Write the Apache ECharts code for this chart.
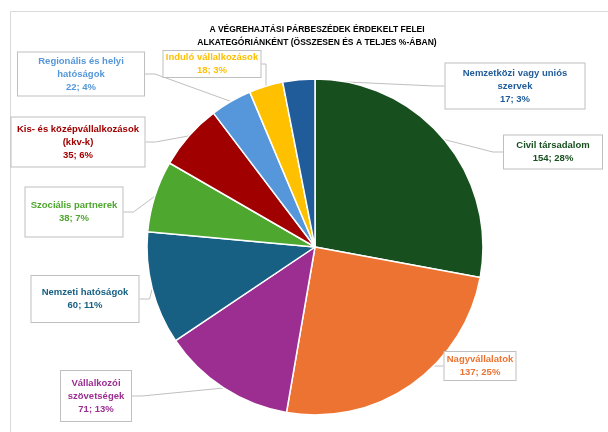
<!DOCTYPE html>
<html>
<head>
<meta charset="utf-8">
<script src="https://cdn.jsdelivr.net/npm/echarts@6/dist/echarts.min.js"></script>
<style>html,body{margin:0;padding:0;background:#fff}#c{width:608px;height:432px}</style>
</head>
<body>
<div id="c"></div>
<script>
var categories = [
  'Civil társadalom',
  'Nagyvállalatok',
  'Vállalkozói\nszövetségek',
  'Nemzeti hatóságok',
  'Szociális partnerek',
  'Kis- és középvállalkozások\n(kkv-k)',
  'Regionális és helyi\nhatóságok',
  'Induló vállalkozások',
  'Nemzetközi vagy uniós\nszervek'
];
var values = [154, 137, 71, 60, 38, 35, 22, 18, 17];
var colors = ['#17501e', '#ed7332', '#9c2e92', '#176083', '#4ea72e', '#a00000', '#5597da', '#ffc000', '#1f5c99'];
// label box layout: centre x, centre y, width, height
var labelBoxes = [
  [553, 152, 100, 35],
  [480, 366, 73, 30],
  [96, 396, 72, 52],
  [85, 299, 109, 48],
  [74, 212, 99, 51],
  [78, 142, 135, 51],
  [81, 74, 128, 45],
  [212, 64, 99, 28],
  [515, 86, 141, 47]
];

var data = categories.map(function (n, i) {
  var b = labelBoxes[i];
  var lines = n.split('\n').length + 1;
  var vp = Math.max(0, (b[3] - 2 - lines * 13) / 2);
  return {
    name: n, value: values[i],
    itemStyle: { color: colors[i] },
    label: { color: colors[i], width: b[2] - 2, padding: [vp, 0] }
  };
});

var chart = echarts.init(document.getElementById('c'));
chart.setOption({
  animation: false,
  title: {
    text: 'A VÉGREHAJTÁSI PÁRBESZÉDEK ÉRDEKELT FELEI\nALKATEGÓRIÁNKÉNT (ÖSSZESEN ÉS A TELJES %-ÁBAN)',
    left: 312, top: 18, textAlign: 'center',
    textStyle: { fontFamily: 'Liberation Sans', fontSize: 8.5, fontWeight: 'bold', color: '#000', lineHeight: 13 }
  },
  graphic: [{
    type: 'rect', shape: { x: 10.5, y: 11.5, width: 640, height: 460 },
    style: { fill: 'none', stroke: '#d9d9d9', lineWidth: 1 }, silent: true
  }],
  series: [{
    type: 'pie',
    center: [315, 247],
    radius: 168,
    startAngle: 90,
    clockwise: true,
    percentPrecision: 0,
    data: data,
    itemStyle: { borderColor: '#fff', borderWidth: 1.5 },
    label: {
      show: true,
      position: 'outside',
      formatter: '{b}\n{c}; {d}%',
      fontFamily: 'Liberation Sans',
      fontSize: 9.5,
      fontWeight: 'bold',
      lineHeight: 13,
      align: 'center',
      overflow: 'none',
      backgroundColor: '#fff',
      borderColor: '#bfbfbf',
      borderWidth: 1
    },
    labelLine: { show: true, length: 10, length2: 10, lineStyle: { color: '#bfbfbf', width: 1 } },
    labelLayout: function (p) {
      var c = labelBoxes[p.dataIndex];
      return { x: c[0], y: c[1], align: 'center', verticalAlign: 'middle' };
    }
  }]
});
</script>
</body>
</html>
